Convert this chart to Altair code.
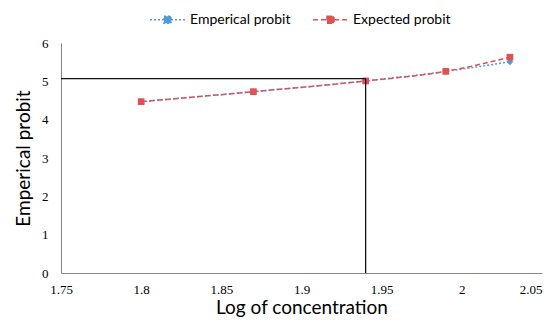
import altair as alt
import pandas as pd

log_conc = [1.8, 1.87, 1.94, 1.99, 2.03]
emp_probit = [4.47, 4.73, 5.01, 5.26, 5.51]
exp_probit = [4.47, 4.73, 5.01, 5.26, 5.63]
series_names = ["Emperical probit", "Expected probit"]
series_colors = ["#4F9BD5", "#E05252"]
series_dash = [[2, 2], [5, 3]]

# LC50 guide lines
guide_x = [1.75, 1.94]
guide_y = [0, 5.07]

x_ticks = [1.75, 1.8, 1.85, 1.9, 1.95, 2.0, 2.05]
y_ticks = [0, 1, 2, 3, 4, 5, 6]

rows = []
for name, vals in zip(series_names, [emp_probit, exp_probit]):
    for xv, yv in zip(log_conc, vals):
        rows.append({"conc": xv, "probit": yv, "series": name})
df = pd.DataFrame(rows)

guide_df = pd.DataFrame({
    "conc": [guide_x[0], guide_x[1]],
    "conc2": [guide_x[1], guide_x[1]],
    "probit": [guide_y[1], guide_y[0]],
    "probit2": [guide_y[1], guide_y[1]],
})

xscale = alt.Scale(domain=[x_ticks[0], x_ticks[-1]], nice=False, zero=False)
yscale = alt.Scale(domain=[y_ticks[0], y_ticks[-1]], nice=False)

legend_symbol = "M-1,0L-0.2,0M0.2,0L1,0M-0.2,-0.2L0.2,-0.2L0.2,0.2L-0.2,0.2Z"

legend = alt.Legend(
    title=None,
    orient="none",
    legendX=88,
    legendY=-42,
    direction="horizontal",
    symbolType=legend_symbol,
    symbolSize=1225,
    symbolStrokeWidth=1.5,
    labelFont="Lato",
    labelFontSize=14,
    labelColor="#000000",
    labelOffset=4,
    columnPadding=19,
)

xaxis = alt.Axis(values=x_ticks, format="~g", grid=False, ticks=False,
                 domainColor="#868686", labelFont="Liberation Serif", labelFontSize=13,
                 labelColor="#000000", labelPadding=10, labelOverlap=False,
                 labelAlign={"condition": {"test": "datum.value > 2.04", "value": "right"}, "value": "center"},
                 titleFont="Lato", titleFontSize=19, titleFontWeight="normal",
                 titleColor="#000000", titlePadding=2)
yaxis = alt.Axis(values=y_ticks, format="d", grid=False, ticks=False, tickCount=7,
                 domainColor="#868686", labelFont="Liberation Serif", labelFontSize=13,
                 labelColor="#000000", labelPadding=13, labelOverlap=False,
                 titleFont="Lato", titleFontSize=19, titleFontWeight="normal",
                 titleColor="#000000", titlePadding=8)

xenc = alt.X("conc:Q", scale=xscale, title="Log of concentration", axis=xaxis)
yenc = alt.Y("probit:Q", scale=yscale, title="Emperical probit", axis=yaxis)

color = alt.Color("series:N", scale=alt.Scale(domain=series_names, range=series_colors), legend=legend)
dash = alt.StrokeDash("series:N", scale=alt.Scale(domain=series_names, range=series_dash), legend=legend)

lines = alt.Chart(df).mark_line(strokeWidth=1.5, interpolate="monotone").encode(
    x=xenc, y=yenc, color=color, strokeDash=dash,
)

emp_pts = alt.Chart(df).transform_filter(
    alt.datum.series == series_names[0]
).mark_point(filled=True, size=45, opacity=1, shape="diamond").encode(x=xenc, y=yenc, color=color)

exp_pts = alt.Chart(df).transform_filter(
    alt.datum.series == series_names[1]
).mark_point(filled=True, size=45, opacity=1, shape="square").encode(x=xenc, y=yenc, color=color)

guides = alt.Chart(guide_df).mark_rule(color="#111111", strokeWidth=1.3).encode(
    x=xenc, x2="conc2:Q", y=yenc, y2="probit2:Q",
)

chart = alt.layer(lines, emp_pts, exp_pts, guides).properties(
    width=481, height=230,
    autosize=alt.AutoSizeParams(type="none"),
    padding={"left": 53, "top": 35, "right": 6, "bottom": 46},
).configure_view(stroke=None)

chart.save("out.html", embed_options={"renderer": "svg", "actions": False})
